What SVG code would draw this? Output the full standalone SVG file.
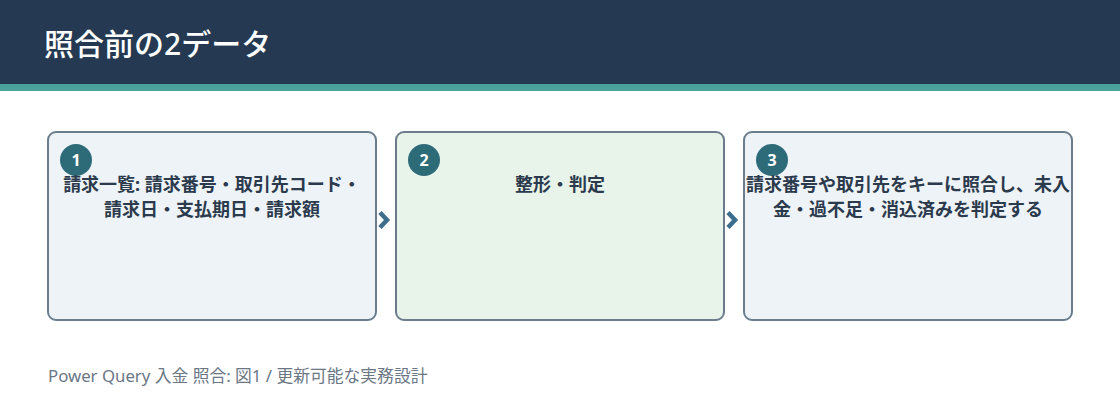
<svg xmlns="http://www.w3.org/2000/svg" width="1120" height="420" viewBox="0 0 1120 420">
<style>
.box{stroke:#6b7d8d;stroke-width:2}
.b1{fill:#eef3f8}
.b2{fill:#e8f3ea}
.num{fill:#2e6b78}
.numt{font-family:"Noto Sans","Noto Sans CJK JP",sans-serif;font-size:16px;font-weight:700;fill:#ffffff;text-anchor:middle}
.lbl{font-family:"Noto Sans","Noto Sans CJK JP",sans-serif;font-size:18px;font-weight:700;fill:#2b3a4c;text-anchor:middle}
.chev{fill:none;stroke:#3d6d8c;stroke-width:4.5;stroke-linejoin:miter}
</style>
<rect x="0" y="0" width="1120" height="420" fill="#ffffff"/>
<rect x="0" y="0" width="1120" height="84" fill="#253a52"/>
<rect x="0" y="84" width="1120" height="7" fill="#4aa39b"/>
<text x="44" y="55" font-family="Noto Sans,Noto Sans CJK JP,sans-serif" font-size="30" font-weight="500" fill="#ffffff">照合前の2データ</text>
<g id="connectors">
<polyline class="chev" points="380,212.5 387,220 380,227.5"/>
<polyline class="chev" points="728,212.5 735,220 728,227.5"/>
</g>
<g id="node1">
<rect class="box b1" x="48" y="132" width="328" height="188" rx="8"/>
<circle class="num" cx="76" cy="160" r="16"/>
<text class="numt" x="76" y="165.5">1</text>
<text class="lbl" x="212" y="191">請求一覧: 請求番号・取引先コード・</text>
<text class="lbl" x="212" y="216">請求日・支払期日・請求額</text>
</g>
<g id="node2">
<rect class="box b2" x="396" y="132" width="328" height="188" rx="8"/>
<circle class="num" cx="424" cy="160" r="16"/>
<text class="numt" x="424" y="165.5">2</text>
<text class="lbl" x="560" y="191">整形・判定</text>
</g>
<g id="node3">
<rect class="box b1" x="744" y="132" width="328" height="188" rx="8"/>
<circle class="num" cx="772" cy="160" r="16"/>
<text class="numt" x="772" y="165.5">3</text>
<text class="lbl" x="908" y="191">請求番号や取引先をキーに照合し、未入</text>
<text class="lbl" x="908" y="216">金・過不足・消込済みを判定する</text>
</g>
<text x="48" y="382" font-family="Noto Sans,Noto Sans CJK JP,sans-serif" font-size="16.8" fill="#6b7785">Power Query 入金 照合: 図1 / 更新可能な実務設計</text>
</svg>
